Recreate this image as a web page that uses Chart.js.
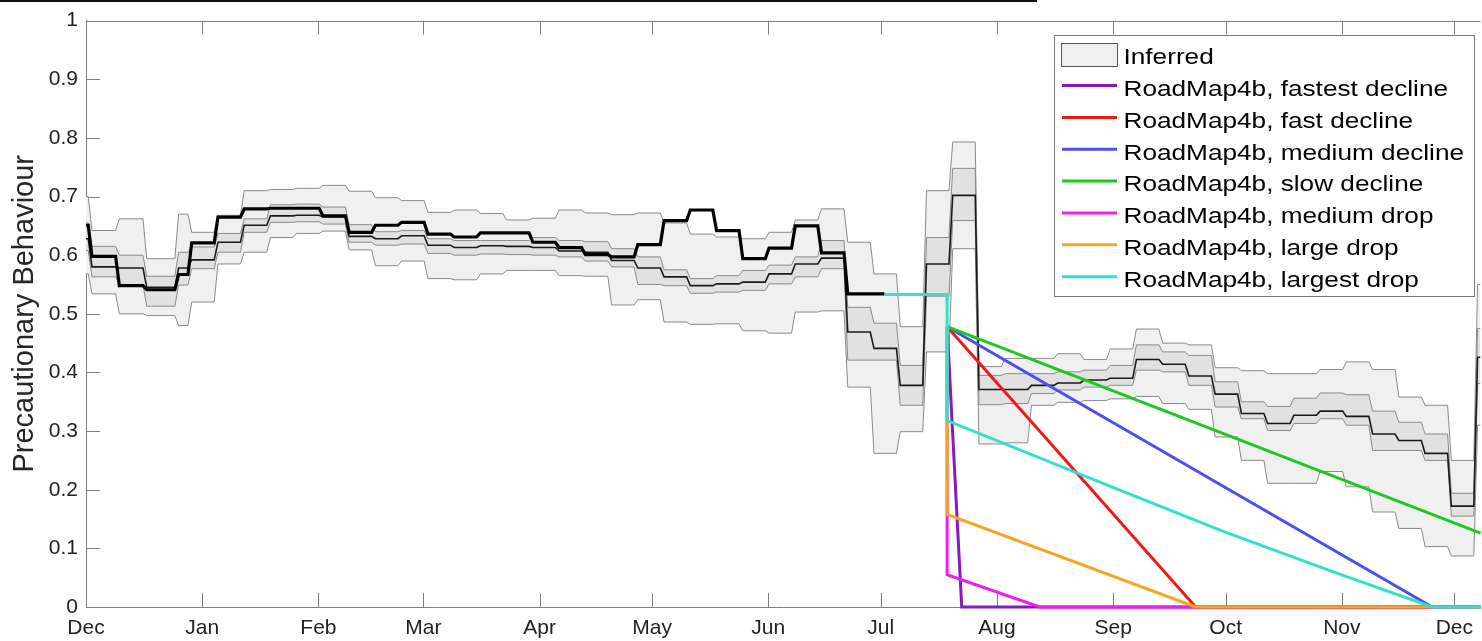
<!DOCTYPE html>
<html><head><meta charset="utf-8">
<script src="https://cdn.jsdelivr.net/npm/chart.js@4.4.1/dist/chart.umd.min.js"></script>
<style>html,body{margin:0;padding:0;background:#fff;overflow:hidden}canvas{display:block}</style>
</head><body>
<canvas id="c" width="1482" height="641" style="width:1482px;height:641px"></canvas>
<script>
// x values are days since 1 Dec 2020
const monthTickDays = [0,31,62,90,121,151,182,212,243,274,304,335,365];
const monthTickLabels = ['Dec','Jan','Feb','Mar','Apr','May','Jun','Jul','Aug','Sep','Oct','Nov','Dec'];
const yTickValues = [0,0.1,0.2,0.3,0.4,0.5,0.6,0.7,0.8,0.9,1];
const yTickLabels = ['0','0.1','0.2','0.3','0.4','0.5','0.6','0.7','0.8','0.9','1'];
const xMax = 372;

// start day of each (mostly weekly) segment of the inferred series
const segmentStarts = [0,1.1,8.4,15.7,24.2,27.7,34.7,41.7,48.7,55.7,62.7,69.7,76.7,83.7,90.7,97.7,104.7,111.7,118.7,125.7,132.7,139.7,146.7,153.7,160.7,167.7,174.7,181.7,188.7,195.7,202.7,209.7,216.7,223.7,230.7,237.7,244.7,251.7,258.7,265.7,272.7,279.7,286.7,293.7,300.7,307.7,314.7,321.7,328.7,335.7,342.7,349.7,356.7,363.7,370.7];

const upper95 = [0.70,0.642,0.662,0.594,0.67,0.639,0.668,0.71,0.712,0.714,0.719,0.709,0.698,0.693,0.673,0.677,0.671,0.66,0.663,0.677,0.672,0.669,0.672,0.655,0.636,0.631,0.628,0.639,0.66,0.679,0.622,0.568,0.478,0.71,0.793,0.41,0.424,0.424,0.432,0.422,0.44,0.474,0.45,0.447,0.408,0.403,0.398,0.398,0.405,0.418,0.405,0.358,0.344,0.25,0.55];
const upper50 = [0.655,0.615,0.60,0.564,0.605,0.614,0.637,0.662,0.686,0.687,0.682,0.652,0.64,0.642,0.628,0.625,0.625,0.625,0.63,0.625,0.623,0.611,0.597,0.575,0.56,0.565,0.574,0.583,0.597,0.625,0.511,0.484,0.412,0.63,0.748,0.395,0.398,0.398,0.401,0.404,0.412,0.447,0.435,0.429,0.384,0.35,0.342,0.356,0.365,0.362,0.334,0.315,0.295,0.194,0.475];
const medianVals = [0.628,0.58,0.578,0.545,0.578,0.592,0.622,0.651,0.667,0.668,0.665,0.632,0.628,0.633,0.617,0.613,0.616,0.615,0.613,0.607,0.605,0.591,0.578,0.563,0.548,0.551,0.554,0.568,0.585,0.595,0.469,0.441,0.378,0.585,0.702,0.371,0.371,0.378,0.382,0.387,0.39,0.422,0.414,0.394,0.363,0.33,0.313,0.327,0.334,0.325,0.295,0.284,0.262,0.172,0.426];
const lower50 = [0.608,0.563,0.55,0.513,0.549,0.577,0.605,0.639,0.656,0.657,0.653,0.622,0.617,0.619,0.603,0.6,0.602,0.601,0.6,0.597,0.59,0.58,0.55,0.548,0.535,0.537,0.54,0.551,0.563,0.577,0.421,0.421,0.344,0.53,0.659,0.345,0.347,0.364,0.37,0.375,0.378,0.404,0.401,0.378,0.341,0.321,0.301,0.313,0.321,0.31,0.267,0.267,0.25,0.155,0.381];
const lower95 = [0.568,0.534,0.50,0.497,0.48,0.52,0.585,0.605,0.63,0.637,0.641,0.609,0.582,0.59,0.56,0.558,0.568,0.574,0.574,0.565,0.564,0.515,0.524,0.486,0.482,0.483,0.471,0.467,0.503,0.505,0.375,0.262,0.299,0.435,0.611,0.278,0.28,0.344,0.349,0.352,0.355,0.359,0.347,0.337,0.29,0.25,0.211,0.211,0.231,0.205,0.162,0.134,0.103,0.087,0.31];
const thickVals = [0.651,0.598,0.548,0.541,0.567,0.621,0.665,0.679,0.68,0.68,0.667,0.639,0.651,0.656,0.636,0.631,0.638,0.638,0.622,0.613,0.601,0.597,0.618,0.659,0.677,0.642,0.594,0.612,0.65,0.604,0.534,0.534];
const thickEndDay = 213;

// scenario projections (day, value)
const fastestX = [229.7,233.6,372],            fastestY = [0.478,0,0];
const fastX    = [229.7,296.0,372],            fastY    = [0.478,0,0];
const mediumX  = [229.7,359.1,372],            mediumY  = [0.478,0,0];
const slowX    = [229.7,372],                  slowY    = [0.478,0.126];
const medDropX = [229.7,229.7,254.4,372],      medDropY = [0.478,0.055,0,0];
const lrgDropX = [229.7,229.7,296.0,372],      lrgDropY = [0.478,0.158,0,0];
const topDropX = [213,229.7,229.7,273.6,303.7,334.4,359.1,372], topDropY = [0.533,0.533,0.318,0.205,0.128,0.056,0,0];

function stepSeries(values, endDay) {
  const pts = [];
  const n = values.length;
  for (let k = 0; k < n; k++) {
    const s = segmentStarts[k];
    const e = k + 1 < segmentStarts.length ? segmentStarts[k + 1] : xMax;
    const x0 = k === 0 ? s : s + 0.5;
    let x1 = (k === segmentStarts.length - 1) ? e : e - 0.5;
    if (endDay !== undefined && k === n - 1) x1 = endDay;
    pts.push({x: x0, y: values[k]}, {x: x1, y: values[k]});
  }
  return pts;
}
function xy(xs, ys) { return xs.map((x, i) => ({x: x, y: ys[i]})); }

const edge = '#8a8a8a';
const datasets = [
  {label:'Inferred', data: stepSeries(upper95), borderColor: edge, borderWidth: 1, backgroundColor: '#f0f0f0', fill: 1, order: 20},
  {label:'Inferred lower 95%', data: stepSeries(lower95), borderColor: edge, borderWidth: 1, fill: false, order: 19},
  {label:'Inferred upper 50%', data: stepSeries(upper50), borderColor: edge, borderWidth: 1, backgroundColor: '#e1e1e1', fill: 3, order: 18},
  {label:'Inferred lower 50%', data: stepSeries(lower50), borderColor: edge, borderWidth: 1, fill: false, order: 17},
  {label:'Inferred median', data: stepSeries(medianVals), borderColor: '#1a1a1a', borderWidth: 1.6, fill: false, order: 16},
  {label:'Fitted', data: stepSeries(thickVals, thickEndDay), borderColor: '#000', borderWidth: 3.2, fill: false, order: 15},
  {label:'RoadMap4b, fastest decline', data: xy(fastestX, fastestY), borderColor: '#8519c2', borderWidth: 3, fill: false, order: 7, clip: false},
  {label:'RoadMap4b, fast decline', data: xy(fastX, fastY), borderColor: '#ef1b1b', borderWidth: 3, fill: false, order: 6, clip: false},
  {label:'RoadMap4b, medium decline', data: xy(mediumX, mediumY), borderColor: '#4f4ff0', borderWidth: 3, fill: false, order: 5, clip: false},
  {label:'RoadMap4b, slow decline', data: xy(slowX, slowY), borderColor: '#1fc81f', borderWidth: 3, fill: false, order: 4, clip: false},
  {label:'RoadMap4b, medium drop', data: xy(medDropX, medDropY), borderColor: '#f01cf0', borderWidth: 3, fill: false, order: 3, clip: false},
  {label:'RoadMap4b, large drop', data: xy(lrgDropX, lrgDropY), borderColor: '#f6a623', borderWidth: 3, fill: false, order: 2, clip: false},
  {label:'RoadMap4b, largest drop', data: xy(topDropX, topDropY), borderColor: '#33e0cc', borderWidth: 3, fill: false, order: 1, clip: false}
];
const legendIndices = [0,6,7,8,9,10,11,12];

const axisColor = '#808080';
const axisDecor = {
  id: 'axisDecor',
  beforeDatasetsDraw(chart) {
    const {ctx, chartArea: ca, scales} = chart;
    const x = scales.x, y = scales.y;
    ctx.save();
    ctx.strokeStyle = axisColor; ctx.lineWidth = 1;
    ctx.beginPath();
    const t = Math.round(ca.top) + 0.5;
    ctx.moveTo(ca.left, t); ctx.lineTo(ca.right, t);
    monthTickDays.forEach(d => {
      const px = Math.round(x.getPixelForValue(d)) + 0.5;
      ctx.moveTo(px, ca.bottom); ctx.lineTo(px, ca.bottom - 14);
      ctx.moveTo(px, ca.top); ctx.lineTo(px, ca.top + 14);
    });
    yTickValues.forEach(v => {
      const py = Math.round(y.getPixelForValue(v)) + 0.5;
      ctx.moveTo(ca.left, py); ctx.lineTo(ca.left + 14, py);
    });
    ctx.stroke();
    ctx.restore();
  },
  afterDraw(chart) {
    const ctx = chart.ctx;
    ctx.save();
    ctx.fillStyle = '#111';
    ctx.fillRect(0, 0, 1037, 2);
    ctx.restore();
  }
};

const boxLegend = {
  id: 'boxLegend',
  afterDatasetsDraw(chart) {
    const ctx = chart.ctx;
    const L = 1054.5, T = 35.5, R = 1474.5, B = 296.5;
    ctx.save();
    ctx.fillStyle = '#fff';
    ctx.fillRect(L, T, R - L, B - T);
    ctx.strokeStyle = '#7a7a7a'; ctx.lineWidth = 1;
    ctx.strokeRect(L, T, R - L, B - T);
    ctx.font = '22px "Liberation Sans", Arial, sans-serif';
    ctx.textBaseline = 'alphabetic';
    ctx.textAlign = 'left';
    legendIndices.forEach((di, i) => {
      const ds = chart.data.datasets[di];
      const base = 64 + 31.85 * i;
      if (i === 0) {
        ctx.fillStyle = '#f0f0f0';
        ctx.fillRect(1061.5, 43.5, 56, 23);
        ctx.strokeStyle = '#555'; ctx.lineWidth = 1;
        ctx.strokeRect(1061.5, 43.5, 56, 23);
      } else {
        ctx.strokeStyle = ds.borderColor; ctx.lineWidth = 3;
        ctx.beginPath();
        ctx.moveTo(1062, base - 10.3); ctx.lineTo(1117, base - 10.3);
        ctx.stroke();
      }
      ctx.save();
      ctx.translate(1123.5, base);
      ctx.scale(1.19, 1);
      ctx.fillStyle = '#000';
      ctx.fillText(ds.label, 0, 0);
      ctx.restore();
    });
    ctx.restore();
  }
};

const tickFont = {family: '"Liberation Sans", Arial, sans-serif', size: 21};
new Chart(document.getElementById('c'), {
  type: 'line',
  data: {datasets},
  options: {
    responsive: false,
    animation: false,
    events: [],
    layout: {padding: {top: 20, right: 0, left: 0, bottom: 0}},
    elements: {point: {radius: 0}, line: {tension: 0}},
    plugins: {legend: {display: false}, tooltip: {enabled: false}},
    scales: {
      x: {
        type: 'linear', min: 0, max: xMax,
        grid: {display: false, drawTicks: false},
        border: {display: true, color: axisColor, width: 1},
        afterBuildTicks: s => { s.ticks = monthTickDays.map(v => ({value: v})); },
        afterFit: s => { s.height = 34; },
        ticks: {autoSkip: false, maxRotation: 0, padding: 9, color: '#222', font: tickFont,
                callback: (v, i) => monthTickLabels[i]}
      },
      y: {
        type: 'linear', min: 0, max: 1,
        grid: {display: false, drawTicks: false},
        border: {display: true, color: axisColor, width: 1},
        afterBuildTicks: s => { s.ticks = yTickValues.map(v => ({value: v})); },
        afterFit: s => { s.width = 86; },
        ticks: {padding: 8, color: '#222', font: tickFont, callback: (v, i) => yTickLabels[i]},
        title: {display: true, text: 'Precautionary Behaviour', color: '#262626',
                font: {family: '"Liberation Sans", Arial, sans-serif', size: 29}, padding: {top: 8, bottom: 0}}
      }
    }
  },
  plugins: [axisDecor, boxLegend]
});
</script>
</body></html>
